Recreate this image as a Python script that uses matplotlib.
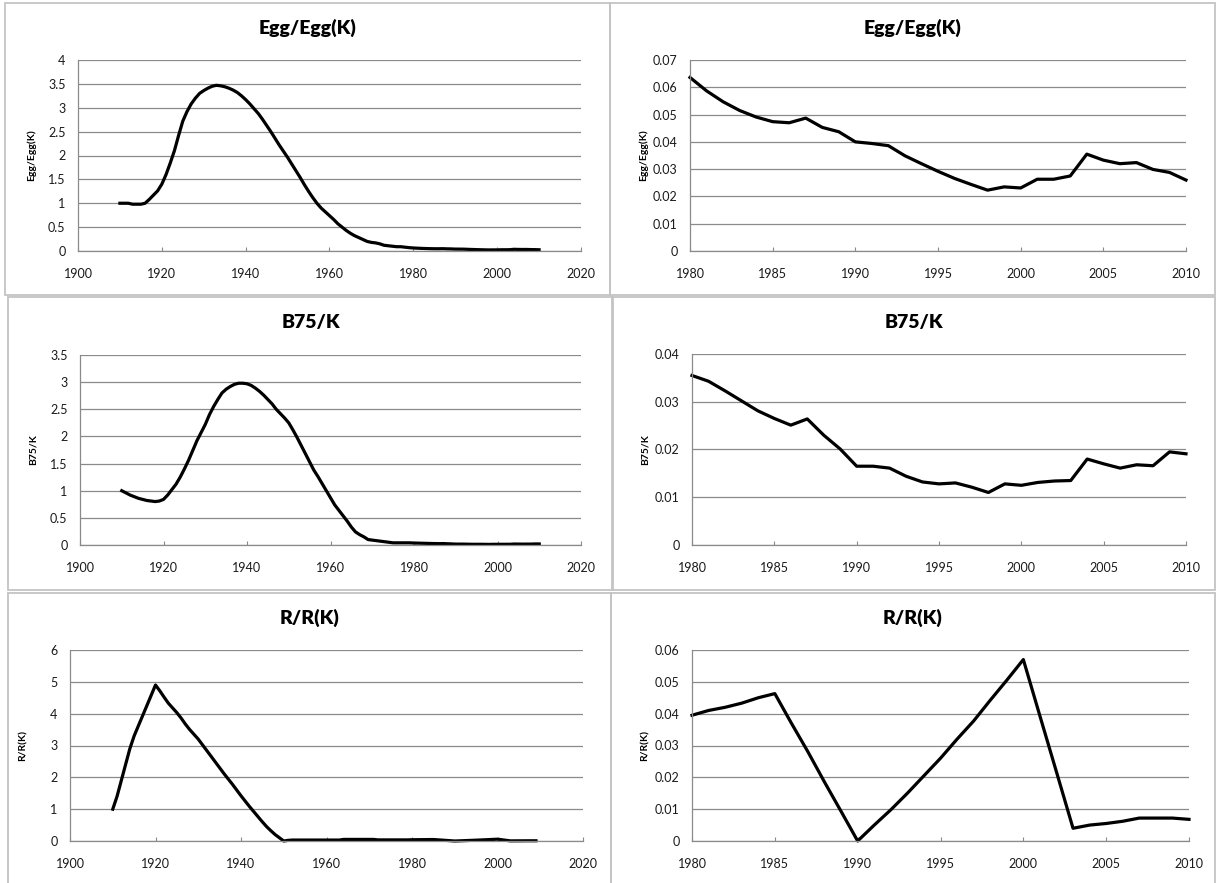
import matplotlib
matplotlib.use('Agg')
import matplotlib.pyplot as plt
import numpy as np
from matplotlib.patches import Rectangle
from matplotlib.ticker import FuncFormatter

plt.rcParams['font.family'] = ['Lato', 'DejaVu Sans']

# ---- data ----
years_early = list(range(1910, 1980))
years_recent = list(range(1980, 2011))

egg_early = [1.0, 1.0, 1.0, 0.98, 0.98, 0.98, 1.0, 1.08, 1.17, 1.26,
             1.4, 1.6, 1.84, 2.1, 2.42, 2.72, 2.92, 3.08, 3.2, 3.3,
             3.36, 3.41, 3.45, 3.47, 3.46, 3.44, 3.41, 3.37, 3.32, 3.25,
             3.17, 3.08, 2.98, 2.88, 2.76, 2.63, 2.5, 2.36, 2.22, 2.09,
             1.96, 1.82, 1.68, 1.54, 1.39, 1.25, 1.12, 1.0, 0.9, 0.82,
             0.74, 0.66, 0.57, 0.5, 0.43, 0.37, 0.32, 0.28, 0.24, 0.2,
             0.18, 0.17, 0.15, 0.12, 0.11, 0.1, 0.09, 0.09, 0.08, 0.07]
egg_recent = [0.0636, 0.0587, 0.0547, 0.0515, 0.0491, 0.0474, 0.047, 0.0487, 0.0453, 0.0437,
              0.040, 0.0394, 0.0386, 0.0349, 0.032, 0.0292, 0.0266, 0.0244, 0.0223, 0.0235,
              0.0231, 0.0263, 0.0263, 0.0275, 0.0355, 0.0333, 0.032, 0.0324, 0.0299, 0.0288,
              0.026]

b75_early = [1.0, 0.96, 0.92, 0.89, 0.86, 0.84, 0.82, 0.81, 0.8, 0.81,
             0.84, 0.92, 1.02, 1.12, 1.25, 1.4, 1.56, 1.74, 1.92, 2.07,
             2.22, 2.4, 2.55, 2.68, 2.8, 2.87, 2.92, 2.96, 2.98, 2.98,
             2.97, 2.94, 2.89, 2.83, 2.76, 2.68, 2.6, 2.5, 2.42, 2.34,
             2.25, 2.12, 1.98, 1.83, 1.68, 1.53, 1.38, 1.26, 1.13, 1.0,
             0.87, 0.74, 0.64, 0.54, 0.44, 0.33, 0.24, 0.19, 0.15, 0.1,
             0.09, 0.08, 0.07, 0.06, 0.05, 0.04, 0.04, 0.04, 0.04, 0.04]
b75_recent = [0.0355, 0.0343, 0.0323, 0.0302, 0.0281, 0.0265, 0.0251, 0.0264, 0.023, 0.0201,
              0.0165, 0.0165, 0.0161, 0.0144, 0.0132, 0.0128, 0.013, 0.0121, 0.011, 0.0128,
              0.0125, 0.0131, 0.0134, 0.0135, 0.018, 0.017, 0.0161, 0.0168, 0.0166, 0.0195,
              0.0191]

r_early = [1.0, 1.4, 1.9, 2.4, 2.9, 3.3, 3.62, 3.94, 4.26, 4.58,
           4.9, 4.72, 4.52, 4.33, 4.18, 4.03, 3.86, 3.67, 3.5, 3.35,
           3.2, 3.02, 2.84, 2.66, 2.48, 2.3, 2.12, 1.95, 1.78, 1.6,
           1.42, 1.25, 1.08, 0.92, 0.76, 0.6, 0.45, 0.32, 0.2, 0.1,
           0.0, 0.02, 0.03, 0.03, 0.03, 0.03, 0.03, 0.03, 0.03, 0.03,
           0.03, 0.03, 0.03, 0.03, 0.05, 0.05, 0.05, 0.05, 0.05, 0.05,
           0.05, 0.05, 0.035, 0.035, 0.035, 0.035, 0.035, 0.035, 0.035, 0.035]
r_recent = [0.0395, 0.041, 0.042, 0.0433, 0.045, 0.0463, 0.037, 0.028, 0.0185, 0.0093,
            0.0, 0.005, 0.0098, 0.015, 0.0205, 0.026, 0.032, 0.0377, 0.0442, 0.0505,
            0.057, 0.0393, 0.0217, 0.004, 0.005, 0.0055, 0.0062, 0.0072, 0.0072, 0.0072,
            0.0068]

W, H = 1216, 883
fig = plt.figure(figsize=(W / 100, H / 100), dpi=100)
fig.patch.set_facecolor('white')

GRID = '#8a8a8a'


def fx(px):
    return px / W


def fy(py):
    return 1 - py / H


def fmt(v, pos):
    return '%g' % round(v, 4)


def panel(box, area, x, y, title, xlim, xticks, ylim, yticks):
    # light grey frame around each chart, like the excel chart objects
    x0, y0, x1, y1 = box
    fig.patches.append(Rectangle((fx(x0), fy(y1)), fx(x1 - x0), (y1 - y0) / H,
                                 transform=fig.transFigure, fill=False,
                                 edgecolor='#c4c4c4', linewidth=1.3))
    l, t, r, b = area
    ax = fig.add_axes([fx(l), fy(b), fx(r - l), (b - t) / H])
    ax.plot(x, y, color='black', linewidth=2.3, solid_joinstyle='round', clip_on=False)
    ax.set_xlim(xlim)
    ax.set_ylim(ylim)
    ax.set_xticks(xticks)
    ax.set_yticks(yticks)
    ax.yaxis.set_major_formatter(FuncFormatter(fmt))
    ax.grid(axis='y', color=GRID, linewidth=0.9)
    ax.set_axisbelow(True)
    for s in ['top', 'right']:
        ax.spines[s].set_visible(False)
    for s in ['left', 'bottom']:
        ax.spines[s].set_color(GRID)
        ax.spines[s].set_linewidth(0.9)
    ax.tick_params(axis='x', direction='in', length=3, color=GRID, pad=12,
                   labelsize=9, labelcolor='#1a1a1a')
    ax.tick_params(axis='y', length=0, pad=9, labelsize=9, labelcolor='#1a1a1a')
    fig.text(fx((x0 + x1) / 2), fy(y0 + 25), title, ha='center', va='center',
             fontsize=14, fontweight='heavy')
    fig.text(fx(l - 47), fy((t + b) / 2), title, ha='center', va='center',
             rotation=90, fontsize=7.5, fontweight='bold')
    return ax


left_ticks = [1900, 1920, 1940, 1960, 1980, 2000, 2020]
right_ticks = [1980, 1985, 1990, 1995, 2000, 2005, 2010]
all_years = years_early + years_recent

panel((5, 3, 610, 295), (78, 60, 581, 251), all_years, egg_early + egg_recent,
      'Egg/Egg(K)', (1900, 2020), left_ticks, (0, 4), np.arange(0, 4.01, 0.5))
panel((610, 3, 1215, 295), (690, 60, 1186, 251), years_recent, egg_recent,
      'Egg/Egg(K)', (1980, 2010), right_ticks, (0, 0.07), np.arange(0, 0.0701, 0.01))

panel((8, 297, 613, 590), (80, 355, 581, 545), all_years, b75_early + b75_recent,
      'B75/K', (1900, 2020), left_ticks, (0, 3.5), np.arange(0, 3.51, 0.5))
panel((612, 297, 1215, 590), (692, 354, 1186, 545), years_recent, b75_recent,
      'B75/K', (1980, 2010), right_ticks, (0, 0.04), np.arange(0, 0.0401, 0.01))

panel((8, 593, 611, 900), (70, 650, 583, 841), all_years[:-1], (r_early + r_recent)[:-1],
      'R/R(K)', (1900, 2020), left_ticks, (0, 6), np.arange(0, 6.01, 1))
panel((611, 593, 1215, 900), (692, 650, 1189, 841), years_recent, r_recent,
      'R/R(K)', (1980, 2010), right_ticks, (0, 0.06), np.arange(0, 0.0601, 0.01))

plt.savefig('out.png', dpi=100, facecolor='white')
